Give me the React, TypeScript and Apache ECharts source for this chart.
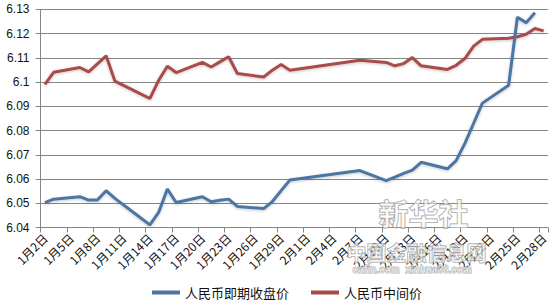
import React, { useEffect, useRef } from "react";
import * as echarts from "echarts";

// Trading days (2014) shown on the chart
const tradeDays = [
  "1月2日", "1月3日", "1月6日", "1月7日", "1月8日", "1月9日", "1月10日",
  "1月13日", "1月14日", "1月15日", "1月16日", "1月17日",
  "1月20日", "1月21日", "1月22日", "1月23日", "1月24日",
  "1月27日", "1月28日", "1月29日", "1月30日",
  "2月7日", "2月10日", "2月11日", "2月12日", "2月13日", "2月14日",
  "2月17日", "2月18日", "2月19日", "2月20日", "2月21日",
  "2月24日", "2月25日", "2月26日", "2月27日", "2月28日",
];

// 人民币即期收盘价 (spot close)
const spotClose: (number | null)[] = [
  6.0503, 6.0517, 6.0527, 6.0513, 6.0513, 6.0552, 6.052,
  6.0438, 6.0411, 6.0462, 6.0559, 6.0503,
  6.0527, 6.0506, 6.0512, 6.0517, 6.0487,
  6.0478, 6.0507, 6.0552, 6.0596,
  6.0635, 6.0593, 6.0608, 6.0623, 6.0637, 6.0669,
  6.0642, 6.0676, 6.0747, 6.083, 6.0913,
  6.0987, 6.1267, 6.1245, 6.1286, null,
];

// 人民币中间价 (central parity)
const centralParity: (number | null)[] = [
  6.099, 6.104, 6.106, 6.1042, 6.1075, 6.1108, 6.1004,
  6.095, 6.0932, 6.1007, 6.1065, 6.1039,
  6.1081, 6.1062, 6.1083, 6.1104, 6.1035,
  6.1021, 6.1049, 6.1072, 6.1049,
  6.109, 6.1081, 6.1067, 6.1076, 6.1101, 6.1067,
  6.1052, 6.1069, 6.1097, 6.1148, 6.1176,
  6.1181, 6.1187, 6.1197, 6.1221, 6.1211,
];

const yMin = 6.04;
const yMax = 6.13;
const yStep = 0.01;

const seriesNames = ["人民币即期收盘价", "人民币中间价"];

// calendar days of the date axis (1月2日 .. 2月28日)
const calendarDays: string[] = [];
for (let d = 2; d <= 31; d++) calendarDays.push(`1月${d}日`);
for (let d = 1; d <= 28; d++) calendarDays.push(`2月${d}日`);

function onCalendar(values: (number | null)[]) {
  const out: (number | null)[] = calendarDays.map(() => null);
  tradeDays.forEach((day, i) => {
    const idx = calendarDays.indexOf(day);
    if (idx >= 0) out[idx] = values[i];
  });
  return out;
}

export default function App() {
  const ref = useRef<HTMLDivElement>(null);

  useEffect(() => {
    document.body.style.margin = "0";
    const chart = echarts.init(ref.current!, undefined, { renderer: "svg" });
    const grid = "#868686";
    chart.setOption({
      animation: false,
      backgroundColor: "#ffffff",
      grid: { left: 40.5, right: 0.5, top: 9.3, bottom: 79.5, containLabel: false },
      legend: {
        left: 152,
        top: 286,
        padding: 0,
        itemWidth: 28,
        itemHeight: 4,
        itemGap: 22,
        icon: "rect",
        textStyle: { fontSize: 13, color: "#111", fontFamily: "Noto Sans CJK SC" },
        data: seriesNames,
      },
      xAxis: {
        type: "category",
        data: calendarDays,
        boundaryGap: true,
        axisLine: { show: true, lineStyle: { color: grid, width: 1 } },
        axisTick: { show: true, interval: 2, length: 5, lineStyle: { color: grid } },
        axisLabel: {
          interval: 2,
          rotate: 45,
          margin: 8,
          fontSize: 12,
          color: "#111",
          fontFamily: "Noto Sans CJK SC",
        },
        splitLine: { show: false },
      },
      yAxis: {
        type: "value",
        min: yMin,
        max: yMax,
        interval: yStep,
        axisLine: { show: true, lineStyle: { color: grid, width: 1 } },
        axisTick: { show: true, length: 5, lineStyle: { color: grid } },
        axisLabel: {
          margin: 11,
          fontSize: 12,
          color: "#111",
          fontFamily: "Liberation Sans",
          formatter: (v: number) => String(parseFloat(v.toFixed(2))),
        },
        splitLine: { show: true, lineStyle: { color: grid, width: 1 } },
      },
      series: [
        {
          name: seriesNames[0],
          type: "line",
          data: onCalendar(spotClose),
          connectNulls: true,
          symbol: "none",
          color: "#4B75A2",
          lineStyle: {
            width: 3,
            color: "#4B75A2",
            shadowColor: "rgba(0,0,0,0.22)",
            shadowBlur: 3,
            shadowOffsetY: 1,
          },
          z: 3,
        },
        {
          name: seriesNames[1],
          type: "line",
          data: onCalendar(centralParity),
          connectNulls: true,
          symbol: "none",
          color: "#A84B4A",
          lineStyle: {
            width: 3,
            color: "#A84B4A",
            shadowColor: "rgba(0,0,0,0.22)",
            shadowBlur: 3,
            shadowOffsetY: 1,
          },
          z: 2,
        },
      ],
      graphic: [
        {
          type: "text",
          left: 378,
          top: 196,
          z: 100,
          style: {
            text: "新华社",
            fontSize: 30,
            fontFamily: "Noto Sans CJK SC",
            fontWeight: "bold",
            fill: "rgba(255,255,255,0.55)",
            stroke: "#9a9a9a",
            lineWidth: 1,
          },
        },
        {
          type: "text",
          left: 346,
          top: 242,
          z: 100,
          style: {
            text: "中国金融信息网",
            fontSize: 20,
            fontFamily: "Noto Sans CJK SC",
            fontWeight: "bold",
            fill: "rgba(255,255,255,0.6)",
            stroke: "#9a9a9a",
            lineWidth: 1,
          },
        },
        {
          type: "text",
          left: 352,
          top: 264,
          z: 100,
          style: {
            text: "cnfin.com  xinhua08.com",
            fontSize: 10,
            fontFamily: "Liberation Sans",
            fontWeight: "bold",
            fill: "rgba(255,255,255,0.6)",
            stroke: "#a0a0a0",
            lineWidth: 0.8,
          },
        },
      ],
    });
    return () => chart.dispose();
  }, []);

  return <div ref={ref} style={{ width: 550, height: 307 }} />;
}
